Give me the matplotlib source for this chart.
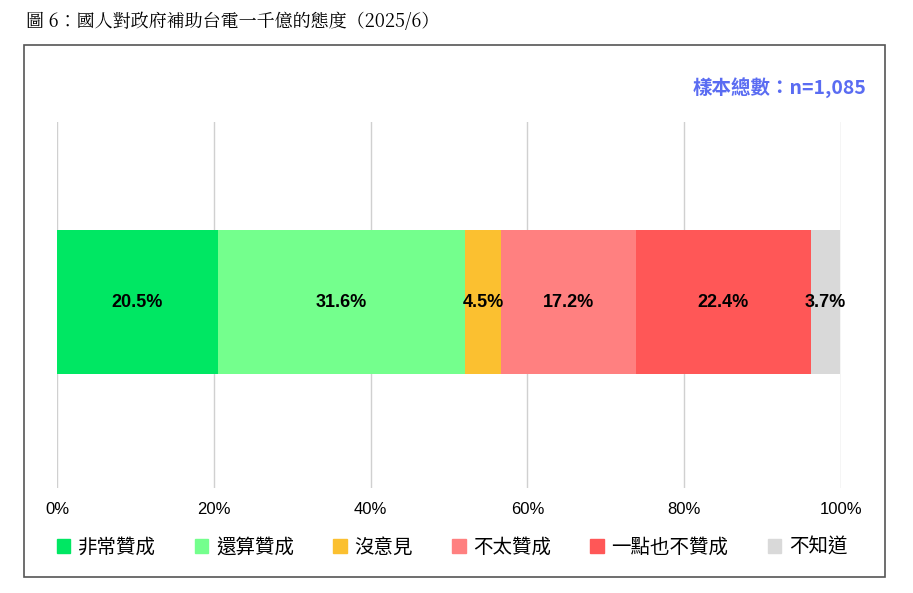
import matplotlib
matplotlib.use("Agg")
import matplotlib.pyplot as plt
from matplotlib.patches import Rectangle, Patch

plt.rcParams["font.family"] = ["Noto Sans CJK TC", "DejaVu Sans"]

categories = ["非常贊成", "還算贊成", "沒意見", "不太贊成", "一點也不贊成", "不知道"]
values = [20.5, 31.6, 4.5, 17.2, 22.4, 3.7]
colors = ["#00e763", "#74ff8d", "#fbc030", "#ff8080", "#ff5757", "#d9d9d9"]
ticks = [0, 20, 40, 60, 80, 100]
tick_labels = ["0%", "20%", "40%", "60%", "80%", "100%"]

fig = plt.figure(figsize=(9.13, 5.93), dpi=100)
fig.patches.append(Rectangle((24/913, 1-577/593), (885-24)/913, (577-45)/593,
                             transform=fig.transFigure, fill=False, edgecolor="#555555", lw=1.2))
fig.text(26/913, 1-22/593, "圖 6：國人對政府補助台電一千億的態度（2025/6）", fontsize=13, va="center", ha="left",
         family=["Noto Serif CJK TC", "Noto Sans CJK TC"])
fig.text(866/913, 1-88/593, "樣本總數：n=1,085", fontsize=14, color="#5a6cf2", ha="right", va="center",
         fontweight="bold")

ax = fig.add_axes([57/913, 1-488/593, 784/913, 366/593])
left = 0
for c, v, col in zip(categories, values, colors):
    ax.barh(0.508, v, left=left, height=0.393, color=col, label=c, zorder=3)
    ax.text(left + v/2, 0.508, f"{v}%", ha="center", va="center", fontsize=13, fontweight="bold", zorder=4,
            family="Liberation Sans")
    left += v
ax.set_xlim(0, 100)
ax.set_ylim(0, 1)
ax.set_xticks(ticks)
ax.set_xticklabels(tick_labels, fontsize=12, family="Liberation Sans")
ax.set_yticks([])
ax.grid(axis="x", color="#d0d0d0", lw=1, zorder=0)
for s in ax.spines.values():
    s.set_visible(False)
ax.tick_params(axis="x", length=0, pad=10)

handles = [Patch(color=col) for col in colors]
fig.legend(handles, categories, loc="center", bbox_to_anchor=(452/913, 1-547/593), ncol=6, frameon=False,
           fontsize=14, handlelength=0.7, handleheight=0.7, handletextpad=0.4, columnspacing=2.0)
fig.savefig("out.png", dpi=100)
